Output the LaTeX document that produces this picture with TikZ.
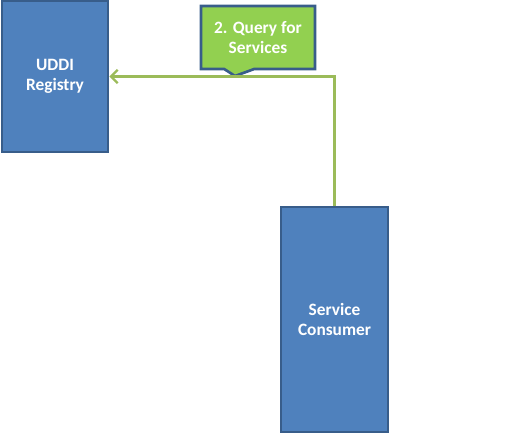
\documentclass[tikz,border=0pt]{standalone}
\usepackage{fontspec}
\setmainfont{Carlito}
\usetikzlibrary{arrows.meta,shapes.callouts}
\definecolor{boxblue}{HTML}{4F81BD}
\definecolor{boxedge}{HTML}{385D8A}
\definecolor{calloutgreen}{HTML}{92D050}
\definecolor{linegreen}{HTML}{9BBB59}
\tikzset{
  actor/.style={draw=boxedge, fill=boxblue, line width=2pt, text=white,
    font=\fontsize{13}{15}\selectfont\bfseries, align=center, inner sep=0pt},
  flow/.style={draw=linegreen, line width=1.8pt, -{Straight Barb[length=5pt,width=10pt]}}
}
\begin{document}
\begin{tikzpicture}[x=0.75pt,y=-0.75pt]
                \useasboundingbox (0,0) rectangle (523,433);
                \node [actor, minimum width=106*0.75pt, minimum height=151*0.75pt] (uddi) at (55,76.5) {UDDI\\Registry};
                \node [actor, minimum width=107*0.75pt, minimum height=225*0.75pt] (consumer) at (334.5,319.5) {Service\\Consumer};
                \node [actor, rectangle callout, fill=calloutgreen, minimum width=114*0.75pt, minimum height=63*0.75pt,
                  callout pointer width=30*0.75pt, callout absolute pointer={(235,76)}] (query) at (258,37.5) {2. Query for\\Services};
                \draw [flow] (consumer.north) |- (uddi.east);
            \end{tikzpicture}
\end{document}
